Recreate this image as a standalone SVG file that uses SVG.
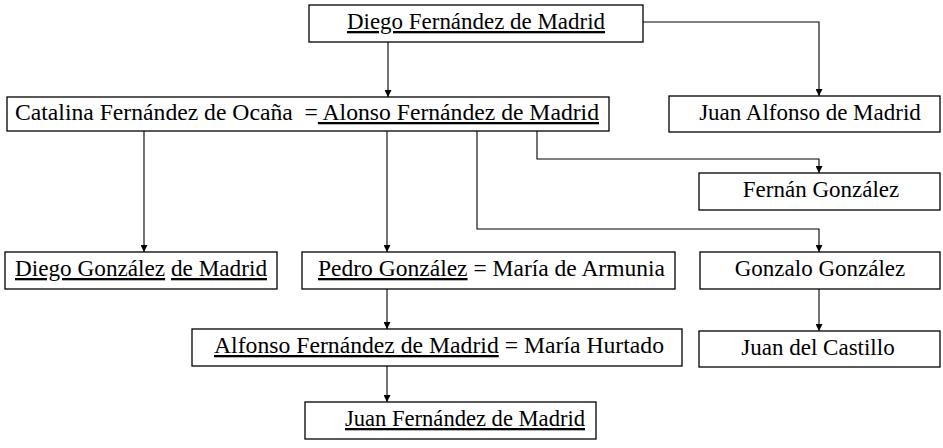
<svg xmlns="http://www.w3.org/2000/svg" width="943" height="448" viewBox="0 0 943 448">
<style>
.box{fill:#fff;stroke:#000;stroke-width:1.3}
.t{font-family:"Liberation Serif","Times New Roman",serif;font-size:23px;fill:#000;white-space:pre}
.m{text-anchor:middle}
.u{text-decoration:underline}
.c{fill:none;stroke:#000;stroke-width:1.1}
</style>
<defs>
<marker id="ah" viewBox="0 0 8 8" refX="8" refY="4" markerWidth="7" markerHeight="7" markerUnits="userSpaceOnUse" orient="auto">
<path d="M0,0 L8,4 L0,8 Z" fill="#000"/>
</marker>
</defs>
<rect width="943" height="448" fill="#fff"/>
<g id="connectors">
<path class="c" d="M388,42 V97" marker-end="url(#ah)"/>
<path class="c" d="M643,22 H819 V96" marker-end="url(#ah)"/>
<path class="c" d="M537,131 V159 H819 V173" marker-end="url(#ah)"/>
<path class="c" d="M477,131 V229 H819 V252" marker-end="url(#ah)"/>
<path class="c" d="M144,131 V252" marker-end="url(#ah)"/>
<path class="c" d="M387,131 V252" marker-end="url(#ah)"/>
<path class="c" d="M819,289 V331" marker-end="url(#ah)"/>
<path class="c" d="M387,289 V329" marker-end="url(#ah)"/>
<path class="c" d="M387,366 V402" marker-end="url(#ah)"/>
</g>
<g id="diego-fernandez">
<rect class="box" x="309" y="5" width="334" height="37"/>
<text class="t u" x="347" y="29" textLength="258" lengthAdjust="spacingAndGlyphs">Diego Fernández de Madrid</text>
</g>
<g id="catalina-alonso">
<rect class="box" x="7" y="97" width="602" height="34"/>
<text class="t" x="15" y="120" textLength="584" lengthAdjust="spacingAndGlyphs">Catalina Fernández de Ocaña  =<tspan class="u"> Alonso Fernández de Madrid</tspan></text>
</g>
<g id="juan-alfonso">
<rect class="box" x="669" y="96" width="271" height="36"/>
<text class="t m" x="810" y="120">Juan Alfonso de Madrid</text>
</g>
<g id="fernan-gonzalez">
<rect class="box" x="699" y="173" width="241" height="37"/>
<text class="t m" x="821" y="197">Fernán González</text>
</g>
<g id="diego-gonzalez">
<rect class="box" x="5" y="252" width="272" height="37"/>
<text class="t" x="15" y="276" textLength="252" lengthAdjust="spacingAndGlyphs"><tspan class="u">Diego González</tspan> <tspan class="u">de Madrid</tspan></text>
</g>
<g id="pedro-gonzalez">
<rect class="box" x="302" y="252" width="373" height="37"/>
<text class="t" x="318" y="276" textLength="347" lengthAdjust="spacingAndGlyphs"><tspan class="u">Pedro González</tspan> = María de Armunia</text>
</g>
<g id="gonzalo-gonzalez">
<rect class="box" x="700" y="252" width="240" height="37"/>
<text class="t m" x="820" y="276">Gonzalo González</text>
</g>
<g id="alfonso-fernandez">
<rect class="box" x="192" y="329" width="490" height="37"/>
<text class="t" x="214" y="353" textLength="450" lengthAdjust="spacingAndGlyphs"><tspan class="u">Alfonso Fernández de Madrid</tspan> = María Hurtado</text>
</g>
<g id="juan-del-castillo">
<rect class="box" x="699" y="331" width="241" height="36"/>
<text class="t m" x="818" y="355">Juan del Castillo</text>
</g>
<g id="juan-fernandez">
<rect class="box" x="305" y="402" width="291" height="37"/>
<text class="t u" x="345" y="426" textLength="240" lengthAdjust="spacingAndGlyphs">Juan Fernández de Madrid</text>
</g>
</svg>
